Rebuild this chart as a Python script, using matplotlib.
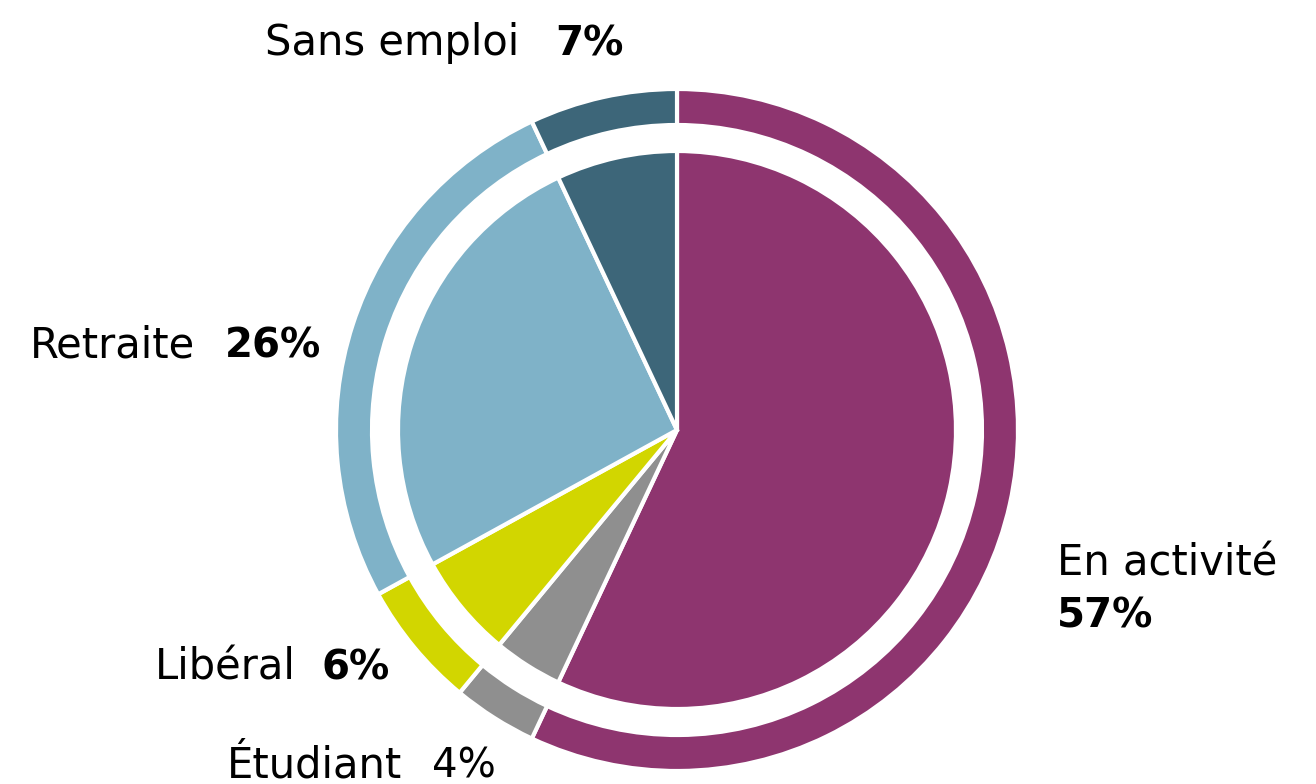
import matplotlib.pyplot as plt

plt.rcParams["font.family"] = ["DejaVu Sans"]

categories = ["En activité", "Étudiant", "Libéral", "Retraite", "Sans emploi"]
shares = [57, 4, 6, 26, 7]
colors = ["#8E356F", "#8F8F8F", "#D2D600", "#7FB2C8", "#3D6679"]
bold_pct = [True, False, True, True, True]

W, H = 1316, 784
fig = plt.figure(figsize=(W / 100, H / 100), dpi=100)
ax = fig.add_axes([0, 0, 1, 1])
ax.set_aspect("equal")
ax.axis("off")

cx, cy = 677, H - 430

# inner full pie
ax.pie(shares, colors=colors, radius=279, center=(cx, cy),
       startangle=90, counterclock=False,
       wedgeprops=dict(edgecolor="white", linewidth=3))

# outer ring
ax.pie(shares, colors=colors, radius=341, center=(cx, cy),
       startangle=90, counterclock=False,
       wedgeprops=dict(width=36, edgecolor="white", linewidth=3))

ax.set_xlim(0, W)
ax.set_ylim(0, H)

# label placement (pixels from top-left): name x, name baseline, pct x, pct baseline
label_pos = {
    "En activité": (1057, 575, 1057, 628),
    "Étudiant": (227, 777, 432, 777),
    "Libéral": (155, 679, 322, 679),
    "Retraite": (30, 357, 225, 357),
    "Sans emploi": (265, 55, 555, 55),
}

for name, val, b in zip(categories, shares, bold_pct):
    nx, ny, px, py = label_pos[name]
    ax.text(nx, H - ny, name, fontsize=30,
            ha="left", va="baseline", color="black")
    ax.text(px, H - py, f"{val}%", fontsize=29,
            fontweight="bold" if b else "normal",
            ha="left", va="baseline", color="black")

fig.savefig("out.png", dpi=100)
